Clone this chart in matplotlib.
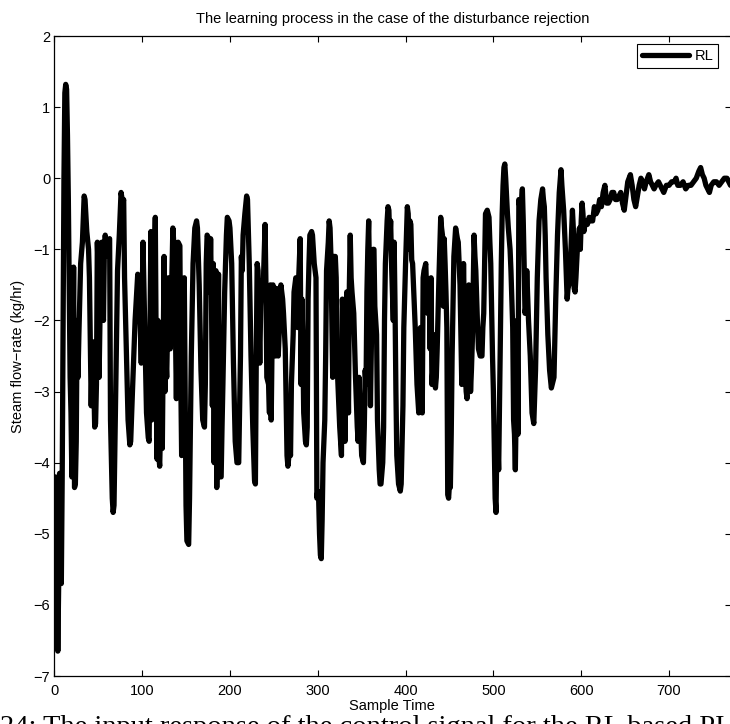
import matplotlib
matplotlib.use("Agg")
import matplotlib.pyplot as plt

plt.rcParams['font.family'] = ['Liberation Sans', 'DejaVu Sans']

title = "The learning process in the case of the disturbance rejection"
xlabel = "Sample Time"
ylabel = "Steam flow\u2212rate (kg/hr)"
legend_label = "RL"
caption = "24: The input response of the control signal for the RL based PI"

x_ticks = [0, 100, 200, 300, 400, 500, 600, 700]
y_ticks = [-7, -6, -5, -4, -3, -2, -1, 0, 1, 2]

# (sample, value) points
sample_time = [
    0, 1, 2, 3, 4, 5, 6, 7, 8, 9, 10, 11, 12, 13, 14, 15, 16, 17, 18, 19, 20, 21, 22, 23, 24, 25, 26, 27, 28, 30,
    32, 34, 35, 37, 39, 40, 42, 43, 44, 45, 46, 47, 48, 49, 50, 51, 52, 54, 55, 56, 57, 58, 60, 61, 63, 64, 66,
    67, 68, 70, 72, 74, 76, 78, 79, 80, 82, 84, 86, 87, 89, 92, 95, 96, 97, 99, 101, 102, 103, 105, 107, 108,
    109, 110, 111, 112, 113, 115, 116, 117, 118, 119, 120, 121, 122, 123, 125, 126, 127, 128, 130, 131, 132,
    133, 135, 136, 138, 139, 140, 141, 143, 144, 145, 146, 148, 149, 150, 151, 153, 154, 156, 158, 160, 162,
    163, 165, 167, 169, 171, 172, 173, 174, 176, 177, 178, 179, 180, 181, 182, 183, 184, 185, 186, 187, 188,
    190, 191, 192, 194, 196, 197, 199, 200, 202, 204, 206, 208, 210,
    212, 213, 214, 215, 217, 219, 220, 222, 224, 226, 228, 229, 230, 231, 232, 233, 234, 235, 236, 237, 238,
    240, 241, 242, 244, 245, 246, 247, 248, 249, 251, 252, 253, 255, 256, 258, 260, 261, 263, 265, 266, 268,
    269, 270, 272, 273, 275, 276, 277, 278, 280, 281, 282, 283, 284, 286, 287, 288, 289, 290, 291, 293, 294,
    296, 298, 299, 300, 301, 302, 303, 304, 305, 306, 308, 309, 310, 312, 313, 314, 315, 316, 317, 318, 320,
    321, 322, 324, 325, 327, 328, 329, 330, 331, 332, 333, 334, 335, 336, 337, 338, 339, 341, 343, 345, 346,
    347, 348, 350, 352, 353, 354, 355, 356, 357, 358, 359, 360, 361, 362, 363, 364, 365, 366, 367, 368, 370,
    371, 372, 374, 375, 376, 377, 379, 380, 381, 382, 383, 384, 386, 387, 388, 389, 390, 392, 394, 395, 397,
    398, 400, 402, 403, 404, 405, 406, 407, 408, 410, 411, 413, 415, 416, 417, 418, 419, 420, 421, 423, 424,
    425, 426, 427, 428, 429,
    430, 431, 432, 433, 434, 435, 436, 437, 438, 440, 441, 442, 443, 444, 445, 446, 447, 448, 449, 450, 451,
    452, 453, 454, 455, 457, 459, 460, 461, 462, 463, 464, 465, 466, 467, 468, 469, 470, 471, 472, 473, 474,
    475, 476, 478, 479, 480, 482, 483, 485, 487, 488, 489, 490, 491, 493, 495, 496, 497, 499, 500, 501, 502,
    503, 504, 505, 506, 507, 508, 509, 510, 511, 512, 513, 514, 516, 517, 518, 519, 520, 521, 522, 523, 524,
    525, 526, 527, 528, 529, 530, 531, 533, 534, 535, 536, 537, 538, 540, 542, 544, 546, 548, 550, 552, 554,
    556, 557, 558, 559, 560, 562, 564, 566, 567, 569, 571, 573, 575, 577, 578, 580, 582, 584, 585, 586, 588,
    590, 591, 592, 593, 594, 596, 598, 599, 600, 601, 602, 603, 605, 607, 609, 611, 613, 615, 617, 619, 621,
    623, 625, 627, 629, 631, 633, 635, 637, 639, 641, 643, 645, 647, 649, 651, 653, 656, 658, 660, 662, 664,
    666, 668, 670, 672, 674, 677, 679, 681, 683, 685, 688, 690, 692, 694, 697, 700, 703, 706, 708, 710, 713,
    716, 719, 722, 725, 728, 731, 734, 736, 738, 740, 742, 744, 746, 748, 751, 754, 757, 760, 763, 766, 768, 770,
]

steam_flow = [
    -5.4, -4.2, -6.5, -5.5, -6.65, -5.7, -4.15, -5.6, -5.7, -4.2, -2.0, 0.0, 1.2, 1.32, 1.25, 0.6, -0.3, -1.6,
    -2.8, -3.3, -4.2, -2.9, -1.25, -4.35, -4.3, -3.7, -2.0, -2.8, -2.2, -1.2,
    -0.9, -0.25, -0.3, -0.75, -1.0, -1.4, -3.2, -2.6, -2.3, -2.9, -3.5, -3.45, -2.9, -0.9, -1.3, -2.8, -2.0,
    -0.9, -1.8, -2.0, -1.0, -0.8, -1.1, -0.9, -0.85, -3.4, -4.5,
    -4.7, -4.6, -3.0, -1.3, -0.8, -0.2, -0.35, -0.3, -1.4, -2.4, -3.4, -3.75, -3.7, -3.0, -2.0, -1.35, -1.4,
    -1.6, -2.6, -0.9, -1.5, -2.1, -3.3, -3.65, -3.7,
    -2.1, -0.75, -3.4, -2.2, -1.9, -0.55, -2.4, -3.95, -2.0, -3.9, -4.05, -3.5, -2.5, -3.8, -1.1, -3.0, -2.5,
    -2.8, -1.4, -2.3, -2.4,
    -1.9, -0.7, -0.9, -2.2, -3.1, -2.0, -0.9, -0.95, -2.8, -3.9, -2.2, -1.4, -3.0, -4.6, -5.1, -5.15, -4.5,
    -2.5, -1.2, -0.7, -0.6,
    -0.7, -1.5, -2.7, -3.4, -3.5, -2.9, -1.2, -0.8, -0.85, -1.6, -0.85, -1.7, -3.2, -1.2, -4.0, -2.0, -1.3,
    -4.35, -3.0, -1.35, -4.2,
    -4.2, -3.5, -2.9, -1.6, -0.8, -0.55, -0.6, -0.7, -1.2, -2.6, -3.7, -4.0, -4.0,
    -2.5, -1.1, -1.3, -0.8, -0.5, -0.25, -0.3, -1.2, -2.5, -3.5, -4.25, -4.3, -2.5, -1.2, -1.3, -2.0, -2.6,
    -1.8, -1.45, -1.5, -1.5,
    -0.65, -1.5, -2.8, -2.9, -3.3, -1.5, -3.4, -2.3, -1.5, -2.0, -2.5, -1.55, -2.5, -2.2, -1.5, -1.7, -1.9,
    -2.4, -3.9, -4.05, -3.8,
    -3.9, -2.9, -2.2, -1.6, -1.4, -1.5, -2.1, -1.5, -0.85, -2.9, -1.7, -2.3, -3.3, -3.7, -3.75, -3.5, -1.7,
    -1.2, -0.8, -0.75, -0.8,
    -1.2, -1.4, -4.5, -4.4, -4.5, -5.0, -5.3, -5.35, -4.8, -4.0, -3.4, -2.5, -1.3, -0.9, -0.6, -0.7, -1.1,
    -1.9, -2.8, -1.1, -1.1,
    -1.4, -2.6, -3.2, -3.5, -3.9, -1.7, -2.0, -2.5, -3.7, -2.7, -1.6, -2.3, -3.3, -1.5, -0.8, -1.4, -1.6,
    -1.9, -2.8, -3.5, -3.7,
    -2.8, -3.2, -3.9, -4.0, -3.5, -2.7, -2.9, -1.6, -1.0, -0.6, -1.5, -3.2, -2.4, -1.4, -1.0, -1.0, -1.8,
    -2.0, -2.2, -3.4, -4.1,
    -4.3, -4.3, -4.0, -3.5, -2.0, -1.2, -0.6, -0.4, -0.45, -0.9, -0.6, -1.2, -2.0, -0.9, -1.8, -3.0, -3.9,
    -4.3, -4.4, -4.3, -3.2,
    -2.1, -1.2, -0.4, -0.5, -1.0, -0.6, -0.65, -1.15, -1.2, -1.8, -2.1, -2.9, -3.3, -2.4, -2.1, -2.6, -3.3,
    -1.4, -1.3, -1.2, -1.6,
    -1.9, -1.5, -1.6, -2.4, -1.4,
    -2.9, -2.7, -2.2, -2.5, -2.95, -2.8, -2.4, -1.9, -1.4, -0.55, -0.7, -0.8, -1.8, -0.85, -1.2, -1.6, -2.1,
    -4.45, -4.5, -4.3, -4.35,
    -3.6, -2.5, -1.8, -1.1, -0.7, -0.85, -0.9, -1.2, -1.5, -2.2, -2.9, -2.2, -1.2, -2.0, -2.7, -3.0, -3.1,
    -2.2, -1.5, -2.4, -3.0,
    -2.7, -2.3, -0.8, -1.1, -1.3, -2.1, -2.4, -2.5, -2.5, -2.1, -1.9, -1.2, -0.5, -0.45, -0.55, -0.9, -1.2,
    -2.5, -3.0, -3.8, -4.5,
    -4.7, -3.6, -3.7, -4.1, -3.2, -2.2, -1.2, -0.5, -0.1, 0.15, 0.2, 0.0, -0.5, -0.7, -0.85, -1.0, -1.3,
    -1.7, -2.1, -3.4, -3.6,
    -4.1, -3.2, -2.0, -3.6, -0.3, -0.4, -0.5, -0.15, -0.6, -1.2, -1.9, -1.8, -1.3, -2.0, -2.5, -3.3, -3.45,
    -2.7, -1.4, -0.6, -0.3,
    -0.15, -0.3, -0.4, -0.8, -1.4, -2.2, -2.7, -2.95, -2.9, -2.8, -1.7, -0.8, -0.2, 0.12, -0.1, -0.45, -1.0,
    -1.7, -1.55, -1.5, -1.1,
    -0.45, -0.7, -1.55, -1.6, -1.4, -0.9, -0.7, -1.0, -0.6, -0.35, -0.5, -0.75, -0.6, -0.65, -0.55, -0.6,
    -0.6, -0.4, -0.5, -0.45, -0.3,
    -0.4, -0.2, -0.1, -0.35, -0.35, -0.3, -0.2, -0.2, -0.3, -0.3, -0.25, -0.2, -0.35, -0.45, -0.25, -0.05,
    0.05, -0.1, -0.3, -0.4, -0.25,
    -0.1, 0.0, -0.05, -0.15, -0.05, 0.05, -0.05, -0.1, -0.15, -0.1, -0.05, -0.1, -0.15, -0.2, -0.1, -0.1,
    -0.05, -0.05, 0.0, -0.1, -0.1,
    -0.05, -0.15, -0.1, -0.1, -0.05, 0.0, 0.1, 0.15, 0.05, 0.0, -0.1, -0.15, -0.2, -0.1, -0.05, -0.05, -0.1,
    -0.05, 0.0, 0.0, -0.05, -0.1,
]

W, H = 730, 724
fig = plt.figure(figsize=(W / 100, H / 100), dpi=100)
left, right, top, bottom = 54.3, 730.5, 36, 676
ax = fig.add_axes([left / W, 1 - bottom / H, (right - left) / W, (bottom - top) / H])

ax.plot(sample_time, steam_flow, color='black', linewidth=3.8, label=legend_label,
        solid_joinstyle='round', solid_capstyle='round')

ax.set_xlim(0, 770)
ax.set_ylim(-7, 2)
ax.set_xticks(x_ticks)
ax.set_yticks(y_ticks)
ax.tick_params(direction='in', top=True, right=True, length=4.5, width=0.8,
               labelsize=10.5, colors='black')
ax.tick_params(axis='x', pad=5.5)
ax.tick_params(axis='y', pad=3)
for s in ax.spines.values():
    s.set_linewidth(0.9)

ax.set_title(title, fontsize=10.5, pad=9)
ax.set_xlabel(xlabel, fontsize=10.5, labelpad=1)
ax.set_ylabel(ylabel, fontsize=10.5, labelpad=6)

leg = ax.legend(loc='upper right', bbox_to_anchor=(0.982, 0.9875), borderaxespad=0,
                fontsize=10.5, handlelength=3.2, handletextpad=0.4, borderpad=0.35,
                fancybox=False, framealpha=1, edgecolor='black')
leg.get_frame().set_linewidth(0.8)

fig.text(0.0, -0.0135, caption, family=['Liberation Serif', 'DejaVu Serif'],
         fontsize=20.5, ha='left', va='baseline')

fig.savefig('out.png', dpi=100)
